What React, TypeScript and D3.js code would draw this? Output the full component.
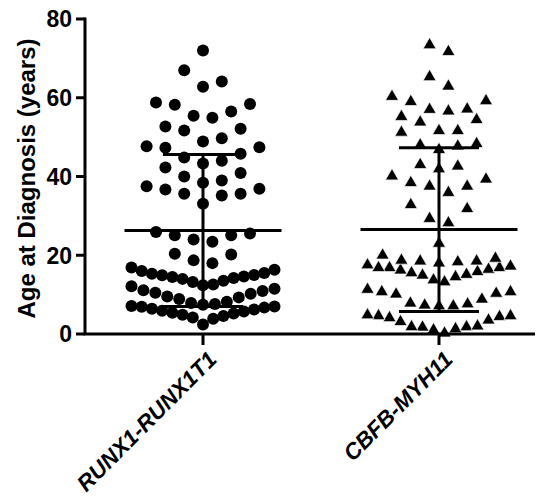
import React from 'react';
import * as d3 from 'd3';

const categories = ['RUNX1-RUNX1T1', 'CBFB-MYH11'];

const runxValues = [
  72.0, 67.0, 64.1, 62.8, 58.8, 58.2, 58.4, 56.5, 55.4, 54.9,
  52.7, 51.7, 52.1, 48.9, 49.7, 47.4, 45.8, 47.3, 47.7, 44.0,
  44.8, 43.3, 42.3, 40.0, 40.9, 38.4, 39.0, 36.9, 36.7, 37.5,
  35.6, 35.2, 35.6, 33.1, 25.5, 25.1, 23.4, 24.0, 25.1, 25.9,
  20.4, 18.7, 18.0, 20.2,
  12.4, 12.6, 13.2, 13.5, 14.0, 14.2, 14.5, 14.6, 14.9, 15.0, 15.3, 15.5, 16.0, 16.3, 16.9,
  7.4, 7.6, 7.9, 8.2, 8.9, 9.3, 9.5, 10.2, 10.5, 10.9, 11.1, 11.5, 12.1,
  2.4, 3.9, 4.2, 4.6, 4.9, 5.2, 5.4, 5.7, 5.9, 6.2, 6.4, 6.7, 6.9, 7.0, 7.1,
];

const cbfbValues = [
  73.4, 71.7, 65.3, 62.9, 60.3, 59.0, 59.2, 57.1, 56.6, 57.0,
  54.4, 53.8, 55.2, 51.6, 51.2, 51.6, 48.0, 46.8, 47.7, 48.3,
  42.6, 41.9, 43.0, 39.3, 37.5, 35.9, 37.5, 38.4, 40.1,
  32.8, 31.8, 29.3, 28.2, 23.0,
  19.2, 18.5, 18.0, 18.3, 18.5, 18.7, 20.0,
  17.2, 16.8, 16.4, 15.8, 15.1, 14.5, 13.2, 13.7, 14.9, 15.5, 16.2, 16.8, 16.8, 17.5,
  10.7, 10.3, 8.8, 7.6, 7.3, 7.1, 7.1, 7.8, 10.1, 10.7, 11.3,
  4.6, 4.4, 3.5, 2.0, 1.7, 1.3, 0.2, 1.0, 1.8, 1.8, 3.1, 4.1, 4.6, 4.8,
];

const yTicks = [0, 20, 40, 60, 80];
const yTitle = 'Age at Diagnosis (years)';

const W = 548;
const H = 500;
const FONT = "'Liberation Sans', Arial, Helvetica, sans-serif";

// Prism-like scatter layout: group values into rows, spread each row around the column centre
function swarm(values: number[], binWidth: number, maxGap: number, maxSpan: number) {
  const sorted = [...values].sort((a, b) => a - b);
  const bins: number[][] = [];
  let cur: number[] = [];
  let start: number | null = null;
  for (const v of sorted) {
    if (start === null || v >= start + binWidth) {
      if (cur.length) bins.push(cur);
      cur = [v];
      start = v;
    } else cur.push(v);
  }
  if (cur.length) bins.push(cur);
  const out: { v: number; dx: number }[] = [];
  for (const b of bins) {
    const n = b.length;
    const gap = n > 1 ? Math.min(maxGap, maxSpan / (n - 1)) : 0;
    b.forEach((v, i) => {
      let k: number;
      if (n % 2 === 1) k = Math.ceil(i / 2) * (i % 2 === 1 ? 1 : -1);
      else k = (Math.floor(i / 2) + 0.5) * (i % 2 === 0 ? 1 : -1);
      out.push({ v, dx: k * gap });
    });
  }
  return out;
}

export default function App() {
  const y = d3.scaleLinear().domain([0, 80]).range([334, 19]);
  const x = d3.scaleBand().domain(categories).range([85, 557]).padding(0);
  const cx = (c: string) => (x(c) as number) + x.bandwidth() / 2;
  const axisLeft = 85;
  const axisRight = 535;
  const y0 = y(0);

  const groups = [runxValues, cbfbValues];
  const tri = d3.symbol().type(d3.symbolTriangle).size(74)();

  return (
    <svg width={W} height={H} style={{ position: 'absolute', left: 0, top: 0, background: '#fff' }}>
      <rect width={W} height={H} fill="#fff" />
      {groups.map((vals, gi) => {
        const c = cx(categories[gi]);
        const pts = swarm(vals, 4.75, 18.8, 143);
        return (
          <g key={gi}>
            {pts.map((p, i) =>
              gi === 0 ? (
                <circle key={i} cx={c + p.dx} cy={y(p.v)} r={6} fill="#000" />
              ) : (
                <path key={i} d={tri as string} transform={`translate(${c + p.dx},${y(p.v)})`} fill="#000" stroke="#fff" strokeWidth={0.7} />
              )
            )}
          </g>
        );
      })}
      {groups.map((vals, gi) => {
        const c = cx(categories[gi]);
        const m = d3.mean(vals) as number;
        const sd = d3.deviation(vals) as number;
        return (
          <g key={'s' + gi} stroke="#000" strokeWidth={3}>
            <line x1={c - 78.5} x2={c + 78.5} y1={y(m)} y2={y(m)} />
            <line x1={c} x2={c} y1={y(m - sd)} y2={y(m + sd)} />
            <line x1={c - 40} x2={c + 40} y1={y(m + sd)} y2={y(m + sd)} />
            <line x1={c - 40} x2={c + 40} y1={y(m - sd)} y2={y(m - sd)} />
          </g>
        );
      })}
      <g stroke="#000" strokeWidth={3}>
        <line x1={axisLeft} x2={axisLeft} y1={y(80) - 1.5} y2={y0} />
        {yTicks.map((t) => (
          <line key={t} x1={axisLeft - 9} x2={axisLeft} y1={y(t)} y2={y(t)} />
        ))}
        <line x1={axisLeft - 1.5} x2={axisRight} y1={y0} y2={y0} />
        {categories.map((c) => (
          <line key={c} x1={cx(c)} x2={cx(c)} y1={y0} y2={y0 + 11} />
        ))}
      </g>
      {yTicks.map((t) => (
        <text key={t} x={72} y={y(t)} dy="0.36em" textAnchor="end" fontFamily={FONT} fontWeight="bold" fontSize={23} fill="#000">
          {t}
        </text>
      ))}
      <text transform={`translate(35,${(y(0) + y(80)) / 2 + 2}) rotate(-90)`} textAnchor="middle" fontFamily={FONT} fontWeight="bold" fontSize={24} fill="#000">
        {yTitle}
      </text>
      {categories.map((c) => (
        <text key={c} transform={`translate(${cx(c) + 15},${y0 + 27}) rotate(-45)`} textAnchor="end" fontFamily={FONT} fontWeight="bold" fontStyle="italic" fontSize={22.5} fill="#000">
          {c}
        </text>
      ))}
    </svg>
  );
}
